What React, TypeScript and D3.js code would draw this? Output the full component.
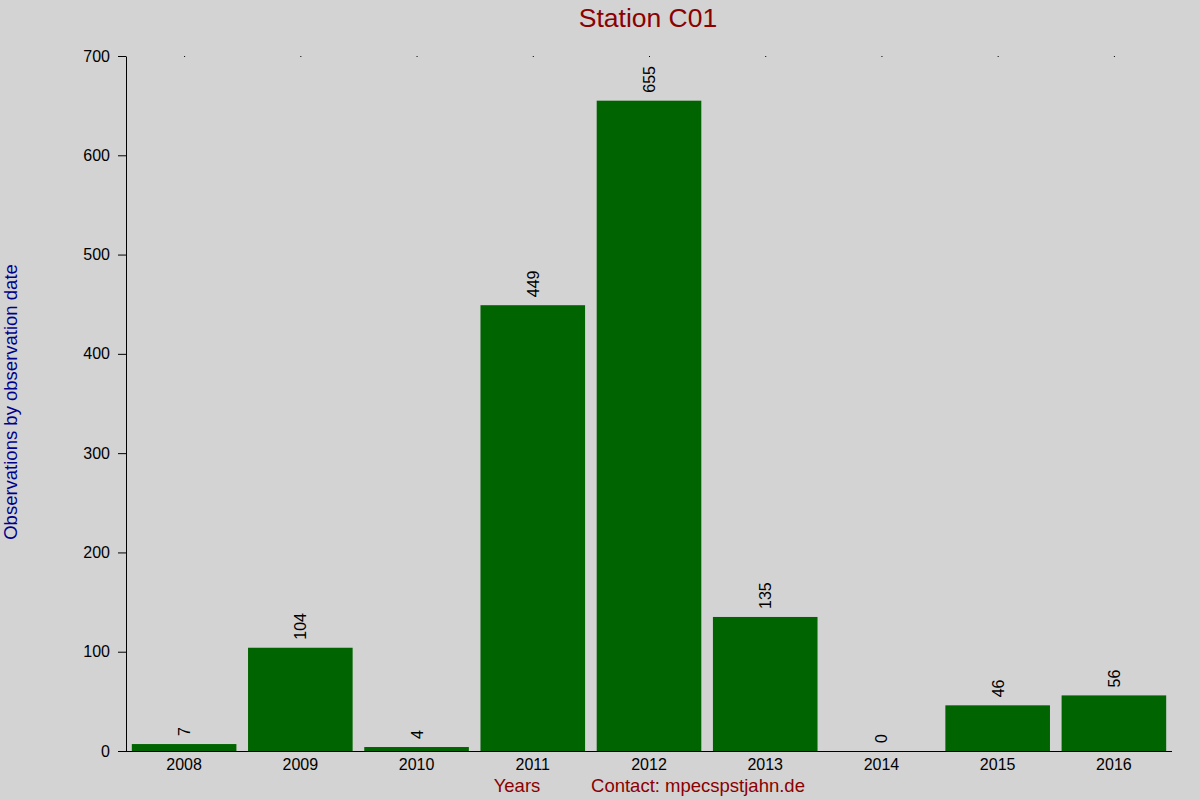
import React, { useEffect, useRef } from 'react';
import * as d3 from 'd3';

const years = ['2008', '2009', '2010', '2011', '2012', '2013', '2014', '2015', '2016'];
const observations = [7, 104, 4, 449, 655, 135, 0, 46, 56];
const yTicks = [0, 100, 200, 300, 400, 500, 600, 700];

const width = 1200;
const height = 800;
const font = '"Liberation Sans", Arial, sans-serif';

const App: React.FC = () => {
  const svgRef = useRef<SVGSVGElement>(null);

  useEffect(() => {
    if (!svgRef.current) return;
    const svg = d3.select(svgRef.current);
    svg.selectAll('*').remove();

    const left = 126, right = 1172, top = 56, bottom = 751;

    const x = d3.scaleBand<string>()
      .domain(years)
      .range([left, right])
      .paddingInner(0.1)
      .paddingOuter(0.05);

    const y = d3.scaleLinear().domain([0, 700]).range([bottom, top]);

    svg.append('rect')
      .attr('width', width)
      .attr('height', height)
      .attr('fill', '#d3d3d3');

    // Title
    svg.append('text')
      .attr('x', 648)
      .attr('y', 27)
      .attr('text-anchor', 'middle')
      .attr('font-family', font)
      .attr('font-size', '26.5px')
      .attr('fill', '#8b0000')
      .text('Station C01');

    // Bars
    svg.selectAll('.bar')
      .data(observations)
      .enter()
      .append('rect')
      .attr('class', 'bar')
      .attr('x', (d, i) => x(years[i])!)
      .attr('y', d => y(d))
      .attr('width', x.bandwidth())
      .attr('height', d => bottom - y(d))
      .attr('fill', '#006400');

    // Value labels
    svg.selectAll('.val')
      .data(observations)
      .enter()
      .append('text')
      .attr('class', 'val')
      .attr('transform', (d, i) => `translate(${x(years[i])! + x.bandwidth() / 2 + 6}, ${y(d) - 8}) rotate(-90)`)
      .attr('font-family', font)
      .attr('font-size', '16px')
      .attr('fill', '#000')
      .text(d => d);

    // Y axis
    const yAxis = svg.append('g')
      .attr('transform', `translate(${left}, 0)`)
      .call(d3.axisLeft(y).tickValues(yTicks).tickSize(8).tickPadding(8).tickSizeOuter(0));
    yAxis.select('.domain').attr('stroke', '#000');
    yAxis.selectAll('line').attr('stroke', '#000');
    yAxis.selectAll('text')
      .attr('font-family', font)
      .attr('font-size', '16px')
      .attr('fill', '#000');

    // X axis
    const xAxis = svg.append('g')
      .attr('transform', `translate(0, ${bottom})`)
      .call(d3.axisBottom(x).tickSize(0).tickPadding(8).tickSizeOuter(0));
    xAxis.select('.domain').attr('d', `M${left - 8},0.5H${right}`).attr('stroke', '#000');
    xAxis.selectAll('text')
      .attr('font-family', font)
      .attr('font-size', '16px')
      .attr('fill', '#000');

    // Top tick dots
    svg.selectAll('.topdot')
      .data(years)
      .enter()
      .append('rect')
      .attr('class', 'topdot')
      .attr('x', d => x(d)! + x.bandwidth() / 2)
      .attr('y', top)
      .attr('width', 1)
      .attr('height', 1)
      .attr('fill', '#000');

    // Axis titles
    svg.append('text')
      .attr('transform', `translate(17, 402) rotate(-90)`)
      .attr('text-anchor', 'middle')
      .attr('font-family', font)
      .attr('font-size', '18.5px')
      .attr('fill', '#00008b')
      .text('Observations by observation date');

    svg.append('text')
      .attr('x', 517)
      .attr('y', 792)
      .attr('text-anchor', 'middle')
      .attr('font-family', font)
      .attr('font-size', '18.5px')
      .attr('fill', '#8b0000')
      .text('Years');

    svg.append('text')
      .attr('x', 698)
      .attr('y', 792)
      .attr('text-anchor', 'middle')
      .attr('font-family', font)
      .attr('font-size', '18.5px')
      .attr('fill', '#8b0000')
      .text('Contact: mpecspstjahn.de');
  }, []);

  return (
    <svg
      ref={svgRef}
      width={width}
      height={height}
      style={{ display: 'block', position: 'absolute', left: 0, top: 0 }}
    />
  );
};

export default App;
